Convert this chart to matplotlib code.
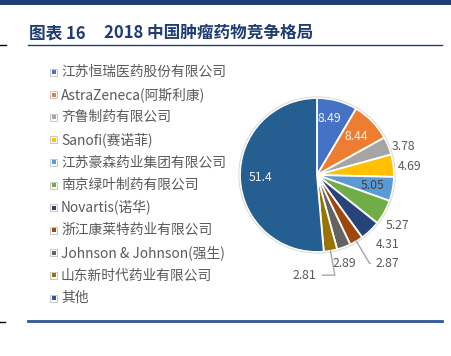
import numpy as np
import matplotlib
matplotlib.use('Agg')
import matplotlib.pyplot as plt
from matplotlib.patches import Rectangle, Circle

plt.rcParams['font.family'] = ['Noto Sans CJK SC', 'DejaVu Sans']

# market share of oncology drugs in China, 2018 (%)
companies = ['江苏恒瑞医药股份有限公司', 'AstraZeneca(阿斯利康)', '齐鲁制药有限公司',
             'Sanofi(赛诺菲)', '江苏豪森药业集团有限公司', '南京绿叶制药有限公司',
             'Novartis(诺华)', '浙江康莱特药业有限公司', 'Johnson & Johnson(强生)',
             '山东新时代药业有限公司', '其他']
shares = [8.49, 8.44, 3.78, 4.69, 5.05, 5.27, 4.31, 2.87, 2.89, 2.81, 51.4]
colors = ['#4472C4', '#ED7D31', '#A5A5A5', '#FFC000', '#5B9BD5', '#70AD47',
          '#264478', '#9E480E', '#636363', '#997300', '#255E91']

# label placement: distance from centre (in radii), angle nudge, text colour, leader line
lab_dist = [0.75, 0.72, 1.18, 1.21, 0.74, 1.23, 1.29, 1.47, 1.21, 1.31, 0.73]
lab_nudge = [3, 0, -4, -2, 0, -3, 2, 8, -3, -17, 0]
lab_color = ['#f2f2f2', '#f2f2f2', '#595959', '#595959', '#404040', '#595959',
             '#595959', '#595959', '#595959', '#595959', '#f2f2f2']
leader = [False, False, False, False, False, False, False, True, False, True, False]

W, H = 452, 356
fig = plt.figure(figsize=(W / 100, H / 100), dpi=100)

# overlay in pixel coords for frame, title and legend
ov = fig.add_axes([0, 0, 1, 1])
ov.set_xlim(0, W)
ov.set_ylim(H, 0)
ov.axis('off')

navy = '#1F3C73'
ov.add_patch(Rectangle((0, 0), W, 4.5, color='#1F3F7A', lw=0))
ov.text(29, 33, '图表 16', fontsize=12, weight='bold', color=navy, va='center')
ov.text(104, 33, '2018 中国肿瘤药物竞争格局', fontsize=12, weight='bold', color=navy, va='center')
ov.plot([28, 442], [45, 45], color=navy, lw=1)
ov.plot([28, 442], [321, 321], color='#2F5597', lw=2)
ov.plot([0, 6], [44.5, 44.5], color='black', lw=1)
ov.plot([0, 5], [322, 322], color='black', lw=1)

for i, name in enumerate(companies):
    y = 72 + i * 22.6
    ov.add_patch(Rectangle((50.5, y - 3.5), 7, 7, facecolor='white', edgecolor='#bfbfbf', lw=0.6))
    ov.add_patch(Rectangle((52, y - 2), 4, 4, color=colors[i], lw=0))
    ov.text(61, y, name, fontsize=9.9, color='#595959', va='center')

# pie, centre at (317, 175) px, radius 77 px
cx, cy, r = 317, 175, 77
half = 80
ax = fig.add_axes([(cx - half) / W, (H - cy - half) / H, 2 * half / W, 2 * half / H])
wedges, _ = ax.pie(shares, colors=colors, startangle=90, counterclock=False,
                   wedgeprops=dict(edgecolor='white', linewidth=1.3))
ax.add_patch(Circle((0, 0), 1.015, fill=False, edgecolor='#d9d9d9', lw=0.7))
ax.set_xlim(-half / r, half / r)
ax.set_ylim(-half / r, half / r)
ax.set_aspect('equal')
ax.axis('off')

for i, w in enumerate(wedges):
    mid = (w.theta1 + w.theta2) / 2
    ang = np.deg2rad(mid + lab_nudge[i])
    tx, ty = lab_dist[i] * np.cos(ang), lab_dist[i] * np.sin(ang)
    txt = f'{shares[i]:g}'
    if leader[i]:
        ex, ey = np.cos(np.deg2rad(mid)), np.sin(np.deg2rad(mid))
        angA = 180 if tx > ex else 0
        ax.annotate(txt, xy=(ex, ey), xytext=(tx, ty), ha='center', va='center',
                    fontsize=8.8, color=lab_color[i], annotation_clip=False,
                    arrowprops=dict(arrowstyle='-', color='#a6a6a6', lw=1,
                                    connectionstyle=f'angle,angleA={angA},angleB={mid},rad=0',
                                    shrinkA=2, shrinkB=0))
    else:
        ax.text(tx, ty, txt, ha='center', va='center', fontsize=8.8, color=lab_color[i])

fig.savefig('out.png', dpi=100)
